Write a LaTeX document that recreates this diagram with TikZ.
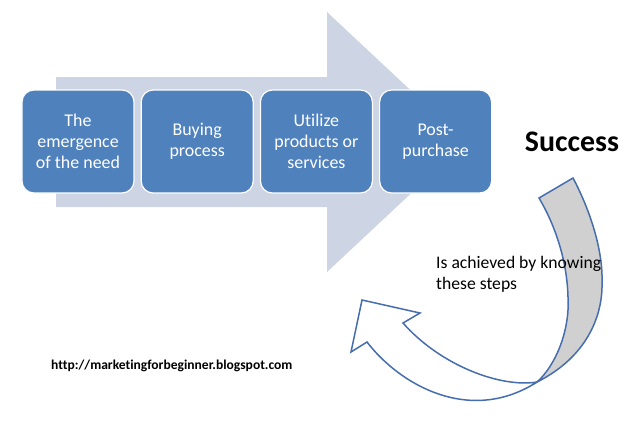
\documentclass[tikz,border=0pt]{standalone}
\usepackage{fontspec}
\setmainfont{Carlito}[Ligatures=NoCommon]
\usetikzlibrary{positioning}
\definecolor{stepblue}{RGB}{79,129,189}
\definecolor{flowbg}{RGB}{205,213,228}
\definecolor{loopline}{RGB}{70,110,175}
\definecolor{loopgray}{RGB}{208,208,208}

\begin{document}
\begin{tikzpicture}[x=1bp,y=-1bp,node distance=6bp,
  stepbox/.style={draw=white,line width=1.2bp,fill=stepblue,rounded corners=12bp,
    minimum width=112bp,minimum height=103bp,inner sep=2bp,text=white,align=center,
    font=\fontsize{18}{21}\selectfont},
  loopedge/.style={draw=loopline,line width=1.5bp,line join=miter}]
  \useasboundingbox (0,0) rectangle (640,422);
  % big process arrow
  \fill[flowbg] (56,77) -- (327,77) -- (327,12) -- (466,142) -- (327,272) -- (327,207) -- (56,207) -- cycle;
  % steps
  \node[stepbox] (need) at (78,141.5) {The\\emergence\\of the need};
  \node[stepbox,right=of need] (buying) {Buying\\process};
  \node[stepbox,right=of buying] (utilize) {Utilize\\products or\\services};
  \node[stepbox,right=of utilize] (post) {Post-\\purchase};
  \node[anchor=base,font=\fontsize{30}{36}\selectfont\bfseries] (success) at (572,151) {Success};
  % curved return arrow
  \coordinate (tailA) at (539,198);
  \coordinate (tailB) at (573,178);
  \coordinate (twist) at (537,382);
  \coordinate (notchU) at (403,323);
  \coordinate (headU) at (420,313);
  \coordinate (tip) at (362,300);
  \coordinate (headL) at (351,352);
  \coordinate (notchL) at (367,342);
  \draw[loopedge,fill=loopgray] (tailA) -- (tailB)
    .. controls (590,210) and (603,250) .. (602,282)
    .. controls (603,318) and (585,358) .. (twist)
    .. controls (556,365) and (570,330) .. (568,297)
    .. controls (567,260) and (555,225) .. (tailA) -- cycle;
  \draw[loopedge,fill=white] (twist) .. controls (500,388) and (440,365) .. (notchU)
    -- (headU) -- (tip) -- (headL) -- (notchL)
    .. controls (400,385) and (470,425) .. (twist) -- cycle;
  \node[anchor=north west,align=left,inner sep=0pt,font=\fontsize{17.7}{21}\selectfont] (knowing) at (436,256) {Is achieved by knowing\\these steps};
  \node[anchor=base west,inner sep=0pt,font=\fontsize{13.6}{16}\selectfont\bfseries] (blog) at (51,369) {http://marketingforbeginner.blogspot.com};
\end{tikzpicture}
\end{document}
